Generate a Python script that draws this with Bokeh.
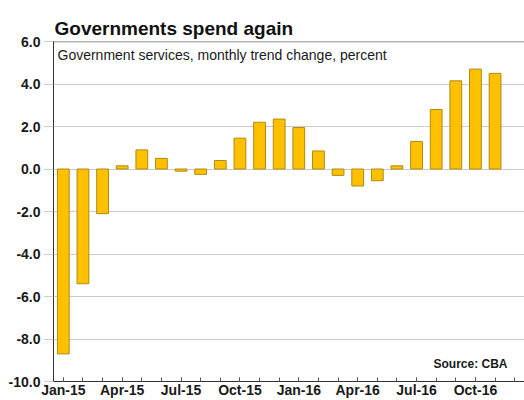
from bokeh.plotting import figure
from bokeh.models import Range1d, FixedTicker, Label, Span
from bokeh.embed import file_html
from bokeh.resources import INLINE

months = ["Jan-15", "Feb-15", "Mar-15", "Apr-15", "May-15", "Jun-15", "Jul-15", "Aug-15",
          "Sep-15", "Oct-15", "Nov-15", "Dec-15", "Jan-16", "Feb-16", "Mar-16", "Apr-16",
          "May-16", "Jun-16", "Jul-16", "Aug-16", "Sep-16", "Oct-16", "Nov-16", "Dec-16"]
values = [-8.7, -5.4, -2.1, 0.15, 0.9, 0.5, -0.1, -0.25, 0.4, 1.45, 2.2, 2.35,
          1.95, 0.85, -0.3, -0.8, -0.55, 0.15, 1.3, 2.8, 4.15, 4.7, 4.5]
y_ticks = [-10, -8, -6, -4, -2, 0, 2, 4, 6]

FONT = "Liberation Sans"

xs = list(range(len(values)))
quarter_idx = [i for i, m in enumerate(months) if m[:3] in ("Jan", "Apr", "Jul", "Oct")]

p = figure(width=524, height=400, output_backend="svg", toolbar_location=None,
           x_range=Range1d(-0.5, len(months) - 0.5), y_range=Range1d(-10, 6),
           min_border_left=53, min_border_right=0, min_border_bottom=0, min_border_top=41,
           title="Governments spend again")
p.outline_line_color = None
p.background_fill_color = "white"
p.border_fill_color = "white"

p.title.text_font = FONT
p.title.text_font_size = "19px"
p.title.text_font_style = "bold"
p.title.text_color = "#111111"
p.title.align = "left"
p.title.offset = 1
p.title.standoff = 6

p.vbar(x=xs, top=values, bottom=0, width=0.6, fill_color="#FFC000",
       line_color="#B08A10", line_width=1)

# y axis
p.yaxis.ticker = FixedTicker(ticks=y_ticks)
p.yaxis.major_label_overrides = {t: f"{t:.1f}" for t in y_ticks}
p.yaxis.major_label_text_font = FONT
p.yaxis.major_label_text_font_size = "14px"
p.yaxis.major_label_text_font_style = "bold"
p.yaxis.major_label_text_color = "#1a1a1a"
p.yaxis.axis_line_color = "#333333"
p.yaxis.major_tick_in = 0
p.yaxis.major_tick_out = 9
p.yaxis.major_tick_line_color = "#999999"
p.yaxis.major_tick_line_dash = "1 1"
p.yaxis.minor_tick_line_color = None
p.yaxis.major_label_standoff = 4

# x axis
p.xaxis.ticker = FixedTicker(ticks=quarter_idx, minor_ticks=list(range(len(months))))
p.xaxis.major_label_overrides = {i: months[i] for i in quarter_idx}
p.xaxis.major_label_text_font = FONT
p.xaxis.major_label_text_font_size = "14px"
p.xaxis.major_label_text_font_style = "bold"
p.xaxis.major_label_text_color = "#1a1a1a"
p.xaxis.axis_line_color = "#333333"
p.xaxis.major_tick_in = 4
p.xaxis.major_tick_out = 0
p.xaxis.minor_tick_in = 4
p.xaxis.minor_tick_out = 0
p.xaxis.major_tick_line_color = "#555555"
p.xaxis.minor_tick_line_color = "#555555"
p.xaxis.major_label_standoff = 0

# grid
p.xgrid.grid_line_color = None
p.ygrid.ticker = FixedTicker(ticks=[t for t in y_ticks if -10 < t < 6])
p.ygrid.grid_line_color = "#999999"
p.ygrid.grid_line_dash = "1 1"
p.ygrid.grid_line_width = 1

# top border
p.add_layout(Span(location=6, dimension="width", line_color="#666666", line_width=1.5))

p.add_layout(Label(x=-0.5, y=6, x_offset=4, y_offset=-5, text="Government services, monthly trend change, percent",
                   text_font=FONT, text_font_size="14px", text_color="#1a1a1a", text_baseline="top"))
p.add_layout(Label(x=len(months) - 0.5, y=-10, x_offset=-17, y_offset=18, text="Source: CBA",
                   text_font=FONT, text_font_size="12px", text_font_style="bold", text_color="#1a1a1a",
                   text_align="right", text_baseline="alphabetic"))

open("out.html", "w").write(file_html(p, INLINE))
